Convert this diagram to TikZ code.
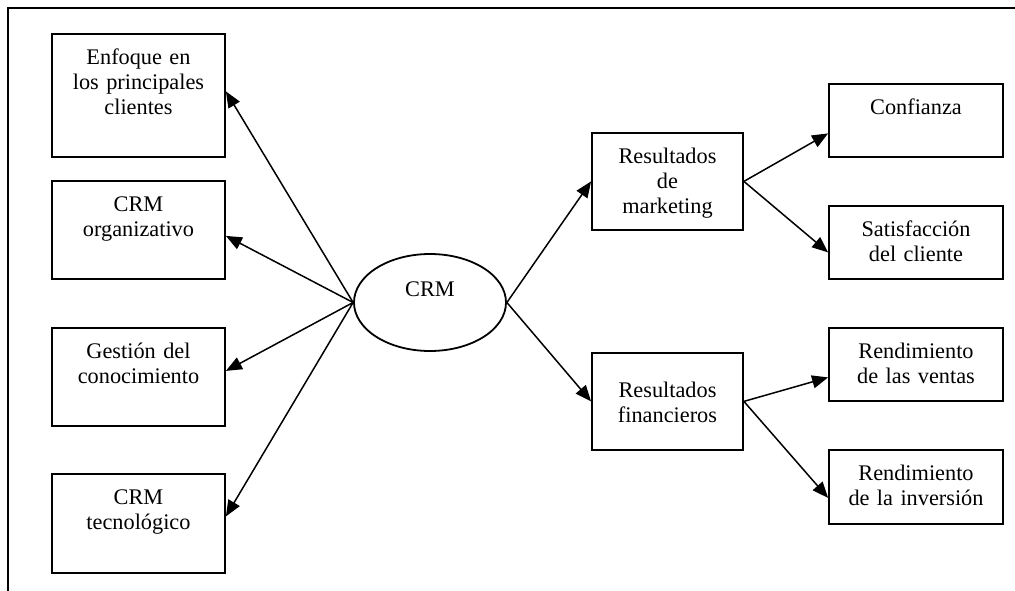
\documentclass[tikz,border=0pt]{standalone}
\usepackage{fontspec}
\setmainfont{Liberation Serif}
\usetikzlibrary{arrows.meta,shapes.geometric}

\begin{document}
\begin{tikzpicture}[
  x=1pt, y=-1pt,
  font=\fontsize{22.3}{25}\selectfont,
  box/.style={draw, line width=1.8pt, anchor=north, align=center, inner xsep=0pt, inner ysep=0pt, text height=31pt},
  leftbox/.style={box, text width=173pt},
  midbox/.style={box, text width=151pt},
  rightbox/.style={box, text width=174pt},
  arrow/.style={-{Triangle[length=16pt,width=13pt]}, line width=1.5pt}
]

% Frame (top and left edges only)
\useasboundingbox (0,0) rectangle (1015,591);
\draw[line width=1.8pt] (8,591) -- (8,8) -- (1015,8);

% Left column
\node[leftbox, text depth=92pt] (enfoque) at (138.5,33) {Enfoque en\\los principales\\clientes};
\node[leftbox, text depth=67pt] (organizativo) at (138.5,180) {CRM\\organizativo};
\node[leftbox, text depth=67pt] (gestion) at (138.5,327) {Gesti\'on del\\conocimiento};
\node[leftbox, text depth=68pt] (tecnologico) at (138.5,473) {CRM\\tecnol\'ogico};

% Centre
\node[draw, ellipse, line width=1.8pt, minimum width=152pt, minimum height=97pt, inner sep=0pt,
  text height=15pt, text depth=27pt] (crm) at (430,302.5) {CRM};

% Middle column
\node[midbox, text depth=66pt] (marketing) at (667.5,132) {Resultados\\de\\marketing};
\node[midbox, text height=45pt, text depth=52pt] (financieros) at (667.5,352) {Resultados\\financieros};

% Right column
\node[rightbox, text depth=42pt] (confianza) at (916,83) {Confianza};
\node[rightbox, text depth=42pt] (satisfaccion) at (916,205) {Satisfacci\'on\\del cliente};
\node[rightbox, text depth=42pt] (ventas) at (916,327) {Rendimiento\\de las ventas};
\node[rightbox, text depth=43pt] (inversion) at (916,449) {Rendimiento\\de la inversi\'on};

% Arrows to the left
\draw[arrow] (crm.west) -- ([yshift=4pt]enfoque.east);
\draw[arrow] (crm.west) -- ([yshift=-6pt]organizativo.east);
\draw[arrow] (crm.west) -- ([yshift=6pt]gestion.east);
\draw[arrow] (crm.west) -- ([yshift=7pt]tecnologico.east);

% Arrows to the right
\draw[arrow] (crm.east) -- (marketing.west);
\draw[arrow] (crm.east) -- (financieros.west);
\draw[arrow] (marketing.east) -- ([yshift=-13pt]confianza.west);
\draw[arrow] (marketing.east) -- ([yshift=-10pt]satisfaccion.west);
\draw[arrow] (financieros.east) -- ([yshift=-13pt]ventas.west);
\draw[arrow] (financieros.east) -- ([yshift=-11pt]inversion.west);

\end{tikzpicture}
\end{document}
